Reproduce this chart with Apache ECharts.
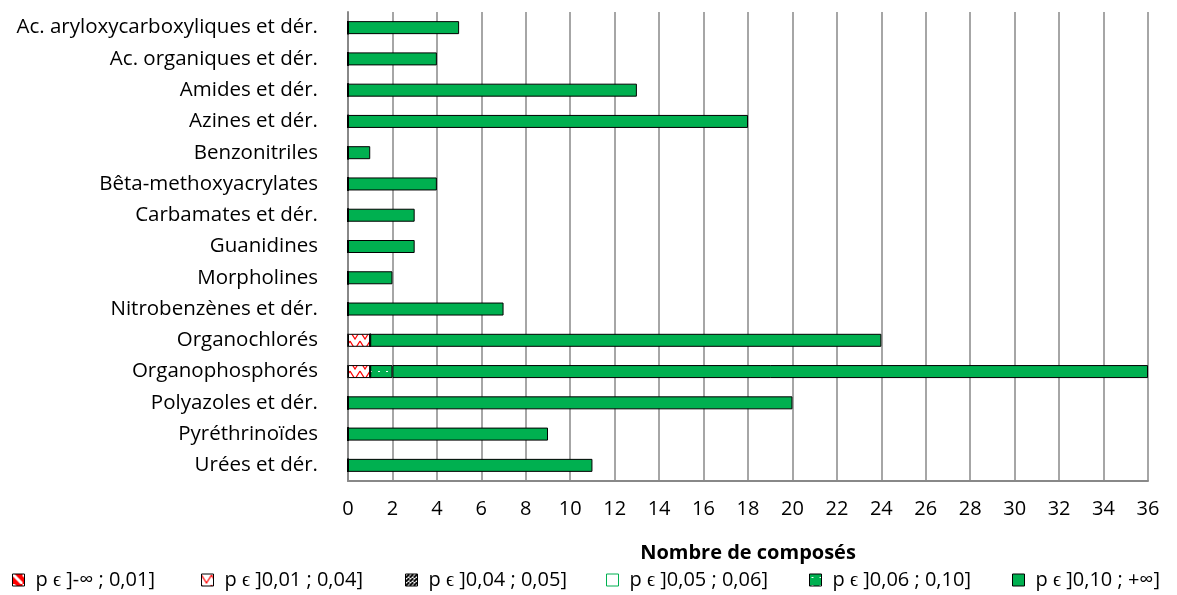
<!DOCTYPE html>
<html><head><meta charset="utf-8">
<script src="https://cdn.jsdelivr.net/npm/echarts@6/dist/echarts.min.js"></script>
<style>html,body{margin:0;padding:0;background:#fff}#c{width:1177px;height:595px}</style>
</head><body><div id="c"></div>
<script>
const categories = ["Ac. aryloxycarboxyliques et dér.","Ac. organiques et dér.","Amides et dér.","Azines et dér.","Benzonitriles","Bêta-methoxyacrylates","Carbamates et dér.","Guanidines","Morpholines","Nitrobenzènes et dér.","Organochlorés","Organophosphorés","Polyazoles et dér.","Pyréthrinoïdes","Urées et dér."];
const seriesNames = ["p ϵ ]-∞ ; 0,01]","p ϵ ]0,01 ; 0,04]","p ϵ ]0,04 ; 0,05]","p ϵ ]0,05 ; 0,06]","p ϵ ]0,06 ; 0,10]","p ϵ ]0,10 ; +∞]"];
const s1 = [0,0,0,0,0,0,0,0,0,0,0,0,0,0,0];
const s2 = [0,0,0,0,0,0,0,0,0,0,1,1,0,0,0];
const s3 = [0,0,0,0,0,0,0,0,0,0,0,0,0,0,0];
const s4 = [0,0,0,0,0,0,0,0,0,0,0,0,0,0,0];
const s5 = [0,0,0,0,0,0,0,0,0,0,0,1,0,0,0];
const s6 = [5,4,13,18,1,4,3,3,2,7,23,34,20,9,11];
const xTicks = [0,2,4,6,8,10,12,14,16,18,20,22,24,26,28,30,32,34,36];
const allData = [s1,s2,s3,s4,s5,s6];

function pat(draw, w, h){
  const c = document.createElement('canvas'); c.width=w; c.height=h;
  const g = c.getContext('2d'); draw(g,w,h);
  return {image:c, repeat:'repeat'};
}
const GREEN = '#00B050';
const fills = [
  pat((g,w,h)=>{g.fillStyle='#FF0000';g.fillRect(0,0,w,h);g.strokeStyle='#fff';g.lineWidth=3;g.beginPath();g.moveTo(0,0);g.lineTo(w,h);g.stroke();},10,10),
  pat((g,w,h)=>{g.fillStyle='#fff';g.fillRect(0,0,w,h);g.strokeStyle='#FF0000';g.lineWidth=1.2;g.beginPath();g.moveTo(0,1);g.lineTo(w/2,h-1);g.lineTo(w,1);g.stroke();},10,10),
  pat((g,w,h)=>{g.fillStyle='#fff';g.fillRect(0,0,w,h);g.strokeStyle='#000';g.lineWidth=2;g.beginPath();g.moveTo(0,h);g.lineTo(w,0);g.stroke();},4,4),
  pat((g,w,h)=>{g.fillStyle='#fff';g.fillRect(0,0,w,h);},4,4),
  pat((g,w,h)=>{g.fillStyle=GREEN;g.fillRect(0,0,w,h);g.fillStyle='#fff';g.fillRect(2,3,2,1);},8,8),
  GREEN
];
const borders = ['#000','#000','#000',GREEN,'#000','#000'];
const legendLeft = [12,201,405,606,809,1012];

const chart = echarts.init(document.getElementById('c'));
const FONT = 'Open Sans';
chart.setOption({
  animation:false,
  textStyle:{fontFamily:FONT},
  grid:{left:348,right:29,top:12,bottom:114,containLabel:false},
  legend:seriesNames.map((n,i)=>({
    top:570,left:legendLeft[i],padding:0,icon:'rect',itemWidth:12,itemHeight:12,itemGap:0,
    textStyle:{fontSize:20,color:'#000',fontFamily:FONT,padding:[0,0,0,6]},
    data:[{name:n,itemStyle:{color:fills[i],borderColor:borders[i],borderWidth:1}}]
  })),
  xAxis:{
    type:'value',min:0,max:36,interval:2,
    name:'Nombre de composés',nameLocation:'middle',nameGap:62,
    nameTextStyle:{fontSize:20,fontWeight:'bold',color:'#000',fontFamily:FONT},
    axisLine:{show:true,lineStyle:{color:'#888',width:2}},
    axisTick:{show:false},
    axisLabel:{fontSize:20,color:'#000',margin:18,fontFamily:FONT,formatter:v=>xTicks.includes(v)?String(v):''},
    splitLine:{show:true,lineStyle:{color:'#a6a6a6',width:2}}
  },
  yAxis:{
    type:'category',data:categories,inverse:true,
    axisLine:{show:true,lineStyle:{color:'#888',width:2}},
    axisTick:{show:false},
    axisLabel:{fontSize:20.5,color:'#000',margin:30,fontFamily:FONT}
  },
  series:allData.map((d,i)=>({
    name:seriesNames[i],type:'bar',stack:'t',data:d,barWidth:13,
    itemStyle:{color:fills[i],borderColor:'#000',borderWidth:1}
  }))
});
</script></body></html>
